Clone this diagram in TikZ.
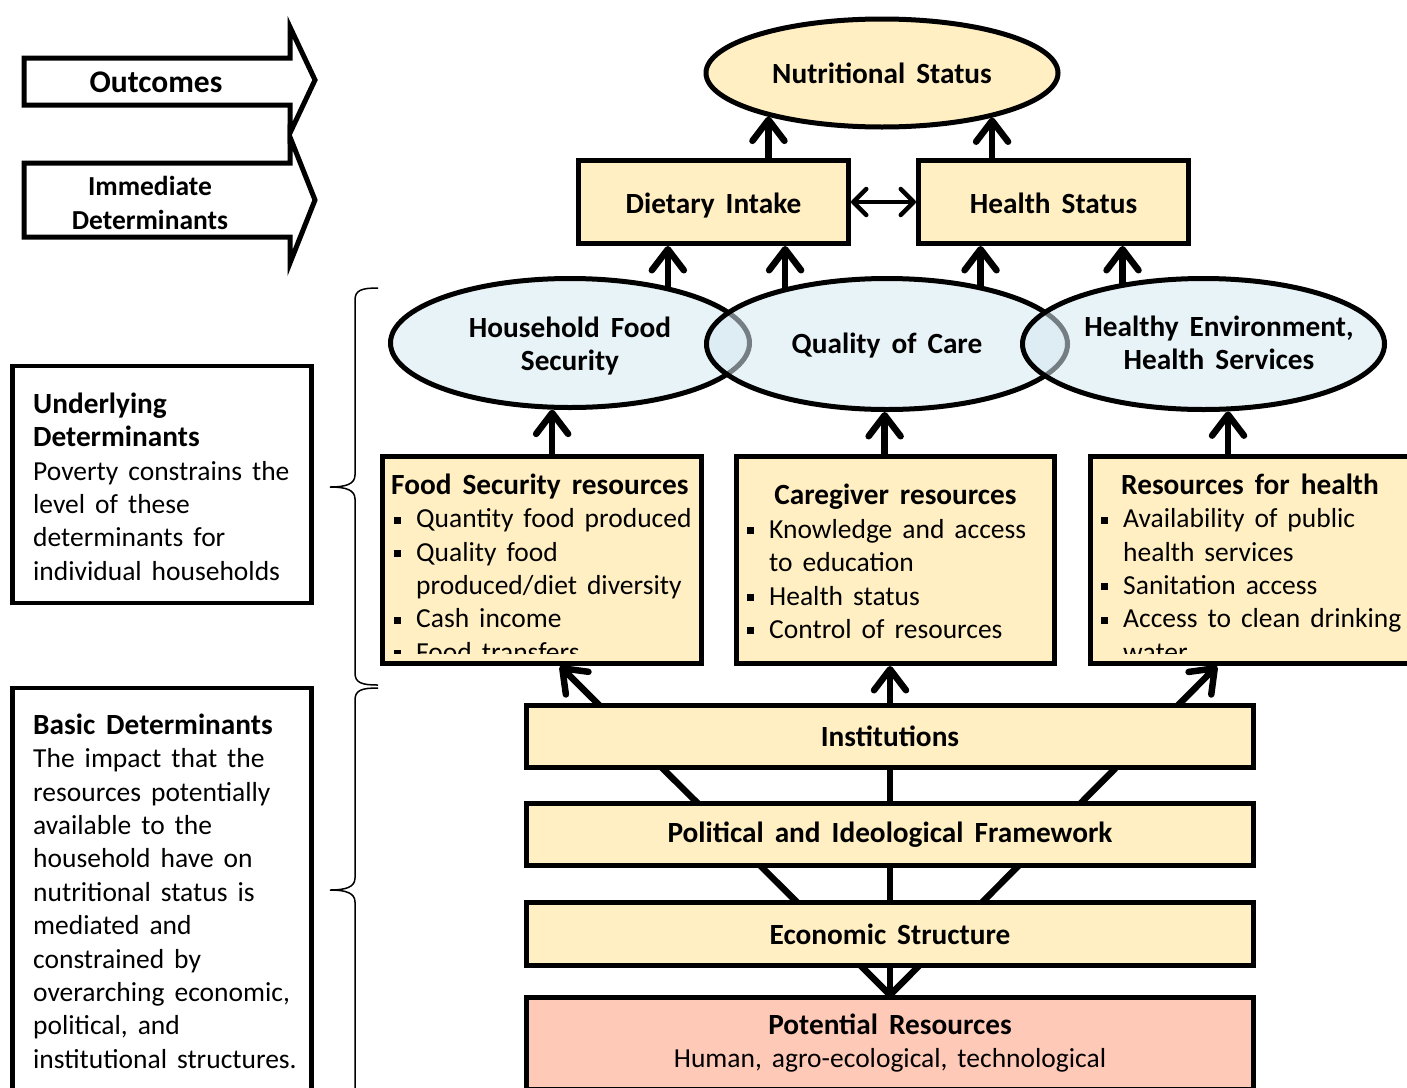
\documentclass[tikz,border=0pt]{standalone}
\usepackage{fontspec}
\setmainfont{Carlito}
\usetikzlibrary{arrows.meta,shapes.geometric,calc}
\definecolor{ylw}{HTML}{FFEFC2}
\definecolor{blu}{HTML}{D6E9F0}
\definecolor{pnk}{HTML}{FFC9B8}
\newcommand\dfont{\fontsize{27.5}{33.4}\selectfont\spaceskip=10pt plus 3pt minus 1pt\relax}
\newcommand\bfont{\fontsize{29.3}{33.4}\selectfont\bfseries\spaceskip=11pt plus 3pt minus 1pt\relax}
\newcommand\hd[1]{{\bfont #1}}
\newcommand\bul{\makebox[25pt][l]{\hspace*{3pt}\rule[4pt]{7pt}{7pt}}}
\newcommand\ind{\hspace*{25pt}}
\newcommand\tstrut{\rule{0pt}{22pt}}
\begin{document}
\begin{tikzpicture}[x=1pt,y=-1pt,font=\dfont,
  ybox/.style={draw,line width=5pt,fill=ylw,rectangle,inner sep=0pt},
  bell/.style={draw,line width=5pt,fill=blu,fill opacity=0.55,ellipse,inner sep=0pt},
  blabel/.style={align=center,inner sep=0pt,font=\bfont},
  arr/.style={line width=6.5pt,line cap=round,-{Straight Barb[length=21pt,width=32pt,round]}},
  lbox/.style={draw,line width=4.5pt,fill=white,rectangle,inner sep=0pt},
  txt/.style={anchor=north west,align=left,inner sep=0pt},
  bigarrow/.style={draw,line width=5pt,fill=white,miter limit=20}
]
\useasboundingbox (0,0) rectangle (1407,1087);
\clip (0,0) rectangle (1407,1087);

% level arrows
\draw[bigarrow] (24,58) -- (290,58) -- (290,27) -- (315,80) -- (290,133) -- (290,105) -- (24,105) -- cycle;
\node[font=\fontsize{31.5}{36}\selectfont\bfseries] (outc) at (156,82) {Outcomes};
\draw[bigarrow] (24,163) -- (290,163) -- (290,137) -- (315,200) -- (290,263) -- (290,237) -- (24,237) -- cycle;
\node[font=\dfont\bfseries,align=center,inner sep=0pt] (immd) at (150,203) {Immediate\\Determinants};

% left explanation boxes
\node[lbox,minimum width=299pt,minimum height=237pt] (und) at (162,484.5) {};
\node[txt] (undt) at (33,391) {\tstrut\hd{Underlying}\\\hd{Determinants}\\Poverty constrains the\\level of these\\determinants for\\individual households};
\node[lbox,minimum width=299pt,minimum height=420pt] (bas) at (162,898) {};
\node[txt] (bast) at (33,712) {\tstrut\hd{Basic Determinants}\\The impact that the\\resources potentially\\available to the\\household have on\\nutritional status is\\mediated and\\constrained by\\overarching economic,\\political, and\\institutional structures.};

% braces
\draw[line width=1.5pt] (378,288) .. controls (362,288) and (355,290) .. (355,300) -- (355,475) .. controls (355,484) and (346,487) .. (330,487) .. controls (346,487) and (355,490) .. (355,499) -- (355,673) .. controls (355,683) and (362,685) .. (378,685);
\draw[line width=1.5pt] (378,688) .. controls (362,688) and (355,690) .. (355,700) -- (355,878) .. controls (355,887) and (346,890) .. (330,890) .. controls (346,890) and (355,893) .. (355,902) -- (355,1090);

% top nodes
\node[draw,line width=5pt,fill=ylw,ellipse,inner sep=0pt,minimum width=352pt,minimum height=108pt,font=\bfont] (nut) at (882,73) {Nutritional Status};
\node[ybox,minimum width=270pt,minimum height=83pt] (diet) at (713.5,202) {};
\node[blabel,anchor=base] (dietl) at (713.5,213) {Dietary Intake};
\node[ybox,minimum width=270pt,minimum height=83pt] (hs) at (1053.5,202) {};
\node[blabel,anchor=base] (hsl) at (1053.5,213) {Health Status};

% fan lines (behind boxes)
\coordinate (conv) at (890,995);
\coordinate (tipL) at (560,666);
\coordinate (tipR) at (1217,666);
\draw[arr] (conv) -- (tipL);
\draw[arr] (conv) -- (conv |- tipL);
\draw[arr] (conv) -- (tipR);

% resource boxes
\node[ybox,minimum width=319pt,minimum height=207pt] (fsr) at (542,560) {};
\node[ybox,minimum width=318pt,minimum height=207pt] (cgr) at (895.5,560) {};
\node[ybox,minimum width=319pt,minimum height=207pt] (rfh) at (1250,560) {};
\begin{scope}
\clip (380,454) rectangle (1407,653);
\node[txt] (fsrt) at (391,472) {\tstrut\hd{Food Security resources}\\\bul Quantity food produced\\\bul Quality food\\\ind produced/diet diversity\\\bul Cash income\\\bul Food transfers};
\node[font=\bfont,anchor=base,inner sep=0pt] (cgrh) at (895.5,504) {Caregiver resources};
\node[txt] (cgrt) at (744,516) {\tstrut\bul Knowledge and access\\\ind to education\\\bul Health status\\\bul Control of resources};
\node[txt] (rfht) at (1098,472) {\tstrut\hspace*{23pt}\hd{Resources for health}\\\bul Availability of public\\\ind health services\\\bul Sanitation access\\\bul Access to clean drinking\\\ind water};
\end{scope}

% underlying ellipses
\node[bell,minimum width=359pt,minimum height=129pt] (hfs) at (570,343) {};
\node[bell,minimum width=361pt,minimum height=131pt] (qoc) at (887,344) {};
\node[bell,minimum width=362pt,minimum height=131pt] (heh) at (1203.5,344) {};
\node[blabel] (hfsl) at (570,346) {Household Food\\Security};
\node[blabel] (qocl) at (887,346) {Quality of Care};
\node[blabel] (hehl) at (1219,343) {Healthy Environment,\\Health Services};

% basic boxes
\node[ybox,minimum width=727pt,minimum height=62pt,font=\bfont] (inst) at (890,736.5) {Institutions};
\node[ybox,minimum width=727pt,minimum height=62pt,font=\bfont] (pol) at (890,834.5) {Political and Ideological Framework};
\node[ybox,minimum width=727pt,minimum height=63pt,font=\bfont] (eco) at (890,934) {Economic Structure};
\node[draw,line width=5pt,fill=pnk,rectangle,inner sep=0pt,minimum width=727pt,minimum height=92pt,align=center] (pot) at (890,1043) {\hd{Potential Resources}\\Human, agro-ecological, technological};

% arrows
\draw[arr] (diet.north -| nut.201) -- (nut.201);
\draw[arr] (hs.north -| nut.338.5) -- (nut.338.5);
\draw[line width=4.5pt,line cap=round,{Straight Barb[length=13pt,width=26pt,round]}-{Straight Barb[length=13pt,width=26pt,round]}] (diet.east) -- (hs.west);
\draw[arr] (hfs.30.5) -- (diet.south -| hfs.30.5);
\draw[arr] (qoc.151.2) -- (diet.south -| qoc.151.2);
\draw[arr] (qoc.32.1) -- (hs.south -| qoc.32.1);
\draw[arr] (heh.143) -- (hs.south -| heh.143);
\draw[arr] (fsr.north -| hfs.255.3) -- (hfs.255.3);
\draw[arr] (cgr.north -| qoc.268) -- (qoc.268);
\draw[arr] (rfh.north -| heh.290.7) -- (heh.290.7);
\end{tikzpicture}
\end{document}
